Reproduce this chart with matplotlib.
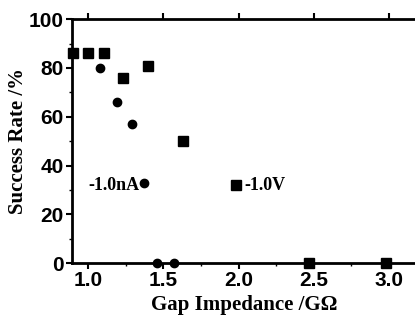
import matplotlib
matplotlib.use('Agg')
import matplotlib.pyplot as plt
from matplotlib.ticker import MultipleLocator

# -1.0 V series (squares)
volt_x = [0.90, 1.00, 1.11, 1.23, 1.40, 1.63, 1.98, 2.47, 2.98]
volt_y = [86, 86, 86, 76, 81, 50, 32, 0, 0]

# -1.0 nA series (circles)
curr_x = [1.08, 1.19, 1.29, 1.37, 1.46, 1.57]
curr_y = [80, 66, 57, 33, 0, 0]

xticks = [1.0, 1.5, 2.0, 2.5, 3.0]
yticks = [0, 20, 40, 60, 80, 100]

fig = plt.figure(figsize=(4.15, 3.2), dpi=100)
ax = fig.add_axes([0.173, 0.178, 0.83, 0.762])

ax.plot(volt_x, volt_y, 's', color='black', ms=6.5, clip_on=False, zorder=5)
ax.plot(curr_x, curr_y, 'o', color='black', ms=6, clip_on=False, zorder=5)

ax.text(1.34, 32, '-1.0nA', ha='right', va='center', fontsize=13,
        fontweight='bold', family='Liberation Serif')
ax.text(2.04, 32, '-1.0V', ha='left', va='center', fontsize=13,
        fontweight='bold', family='Liberation Serif')

ax.set_xlim(0.893, 3.18)
ax.set_ylim(0, 100)
ax.set_xticks(xticks)
ax.set_xticklabels([f'{v:.1f}' for v in xticks])
ax.set_yticks(yticks)
ax.xaxis.set_minor_locator(MultipleLocator(0.25))
ax.yaxis.set_minor_locator(MultipleLocator(10))

for s in ['left', 'bottom', 'top']:
    ax.spines[s].set_linewidth(2)
ax.spines['right'].set_visible(False)

ax.tick_params(axis='both', which='major', direction='out', length=4, width=1.5,
               labelsize=15, pad=2)
ax.tick_params(axis='both', which='minor', direction='out', length=2, width=1)
ax.tick_params(axis='x', top=True, which='major')
for lab in ax.get_xticklabels() + ax.get_yticklabels():
    lab.set_fontweight('bold')
    lab.set_family('Liberation Sans')

ax.set_xlabel('Gap Impedance /G\u03a9', fontsize=15, fontweight='bold',
              family='Liberation Serif', labelpad=3)
ax.set_ylabel('Success Rate /%', fontsize=15, fontweight='bold',
              family='Liberation Serif', labelpad=0)

fig.savefig('out.png', dpi=100)
